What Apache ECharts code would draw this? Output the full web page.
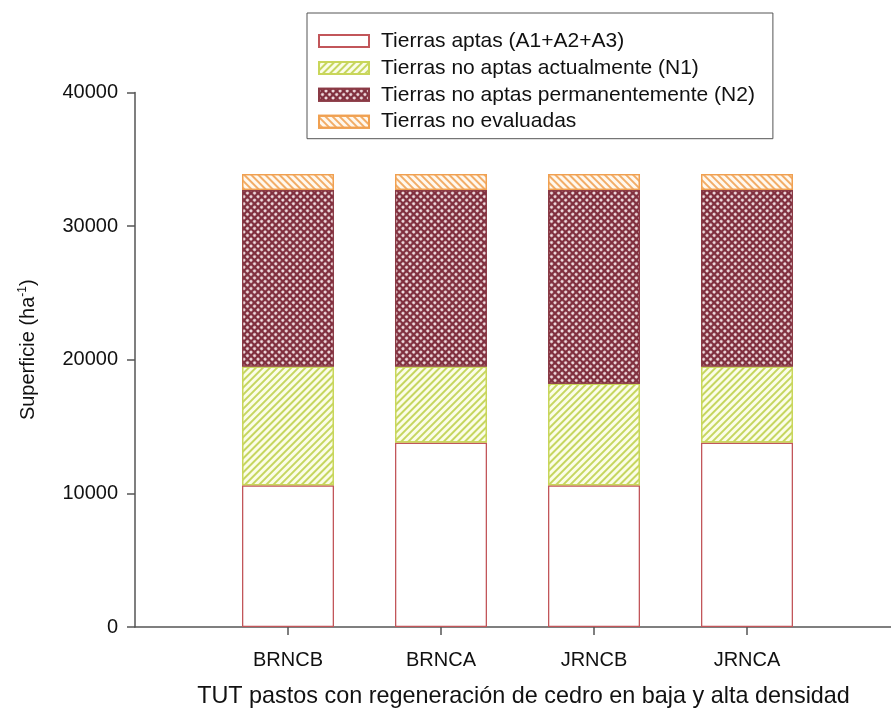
<!DOCTYPE html>
<html>
<head>
<meta charset="utf-8">
<script src="https://cdn.jsdelivr.net/npm/echarts@6/dist/echarts.min.js"></script>
<style>
  html, body { margin: 0; padding: 0; background: #fff; overflow: hidden; }
  #chart { width: 100vw; height: 100vh; }
</style>
</head>
<body>
<div id="chart"></div>
<script>
// Land suitability by pasture-use type (hectares per class)
const categories = ['BRNCB', 'BRNCA', 'JRNCB', 'JRNCA'];
const seriesNames = [
  'Tierras aptas (A1+A2+A3)',
  'Tierras no aptas actualmente (N1)',
  'Tierras no aptas permanentemente (N2)',
  'Tierras no evaluadas'
];
const aptas = [10600, 13800, 10600, 13800];
const noAptasActual = [8900, 5700, 7600, 5700];
const noAptasPermanente = [13200, 13200, 14500, 13200];
const noEvaluadas = [1200, 1200, 1200, 1200];
const yTicks = [0, 10000, 20000, 30000, 40000];

// Empty slots at both ends give the axis its margins left and right of the bars
const pad = arr => ['-', ...arr, '-'];
const axisCats = ['', ...categories, ''];

const font = 'Liberation Sans, Arial, sans-serif';

const styles = [
  { color: '#ffffff', borderColor: '#c2565a', decal: null },
  { color: '#fbfde8', borderColor: '#c9d65a',
    decal: { symbol: 'rect', symbolSize: 1, dashArrayX: [1, 0], dashArrayY: [2, 3], rotation: -Math.PI / 4, color: '#c6d660' } },
  { color: '#80303f', borderColor: '#8a3a45',
    decal: { symbol: 'circle', symbolSize: 1, dashArrayX: [[3, 1.3]], dashArrayY: [3, 1.3], rotation: Math.PI / 4, color: '#f8e8ea' } },
  { color: '#fff8ee', borderColor: '#f0a050',
    decal: { symbol: 'rect', symbolSize: 1, dashArrayX: [1, 0], dashArrayY: [2, 3], rotation: Math.PI / 4, color: '#f2ad68' } }
];
const values = [aptas, noAptasActual, noAptasPermanente, noEvaluadas];

const series = values.map((vals, i) => {
  const itemStyle = {
    color: styles[i].color,
    borderColor: styles[i].borderColor,
    borderWidth: 1.3
  };
  if (styles[i].decal) itemStyle.decal = styles[i].decal;
  return {
    name: seriesNames[i],
    type: 'bar',
    stack: 'total',
    barWidth: 92,
    data: pad(vals),
    itemStyle: itemStyle,
    emphasis: { disabled: true }
  };
});

const chart = echarts.init(document.getElementById('chart'), null, { renderer: 'canvas' });
chart.setOption({
  animation: false,
  backgroundColor: '#ffffff',
  grid: { left: 135, width: 765, top: 92.5, bottom: 86, containLabel: false, outerBoundsMode: 'none' },
  legend: {
    orient: 'vertical',
    left: 307,
    top: 13,
    padding: [17.5, 18, 6.5, 11],
    icon: 'rect',
    itemWidth: 50,
    itemHeight: 12,
    itemGap: 5.9,
    borderColor: '#555',
    borderWidth: 1,
    backgroundColor: '#ffffff',
    selectedMode: false,
    data: seriesNames,
    textStyle: { fontFamily: font, fontSize: 21, lineHeight: 21, color: '#111', padding: [0, 0, 0, 7] }
  },
  xAxis: {
    type: 'category',
    data: axisCats,
    boundaryGap: false,
    name: 'TUT pastos con regeneración de cedro en baja y alta densidad',
    nameLocation: 'middle',
    nameGap: 58,
    nameTextStyle: { fontFamily: font, fontSize: 23.4, color: '#111', padding: [0, 0, 0, 12] },
    axisLine: { lineStyle: { color: '#555', width: 1.5 } },
    axisTick: {
      length: 8,
      lineStyle: { color: '#555', width: 1.5 },
      interval: (idx) => idx > 0 && idx < axisCats.length - 1
    },
    axisLabel: { fontFamily: font, fontSize: 20, color: '#111', margin: 23, interval: 0 },
    splitLine: { show: false }
  },
  yAxis: {
    type: 'value',
    min: yTicks[0],
    max: yTicks[yTicks.length - 1],
    interval: 10000,
    name: '{a|Superficie (ha}{s|-1}{a|)}',
    nameLocation: 'middle',
    nameGap: 96,
    nameTextStyle: {
      padding: [0, 0, 0, 20],
      rich: {
        a: { fontFamily: font, fontSize: 20, color: '#111' },
        s: { fontFamily: font, fontSize: 12, color: '#111', padding: [0, 0, 10, 0] }
      }
    },
    axisLine: { show: true, lineStyle: { color: '#555', width: 1.5 } },
    axisTick: { show: true, length: 8, lineStyle: { color: '#555', width: 1.5 } },
    axisLabel: { fontFamily: font, fontSize: 20, color: '#111', margin: 17, formatter: v => String(v) },
    splitLine: { show: false }
  },
  series: series
});
</script>
</body>
</html>
